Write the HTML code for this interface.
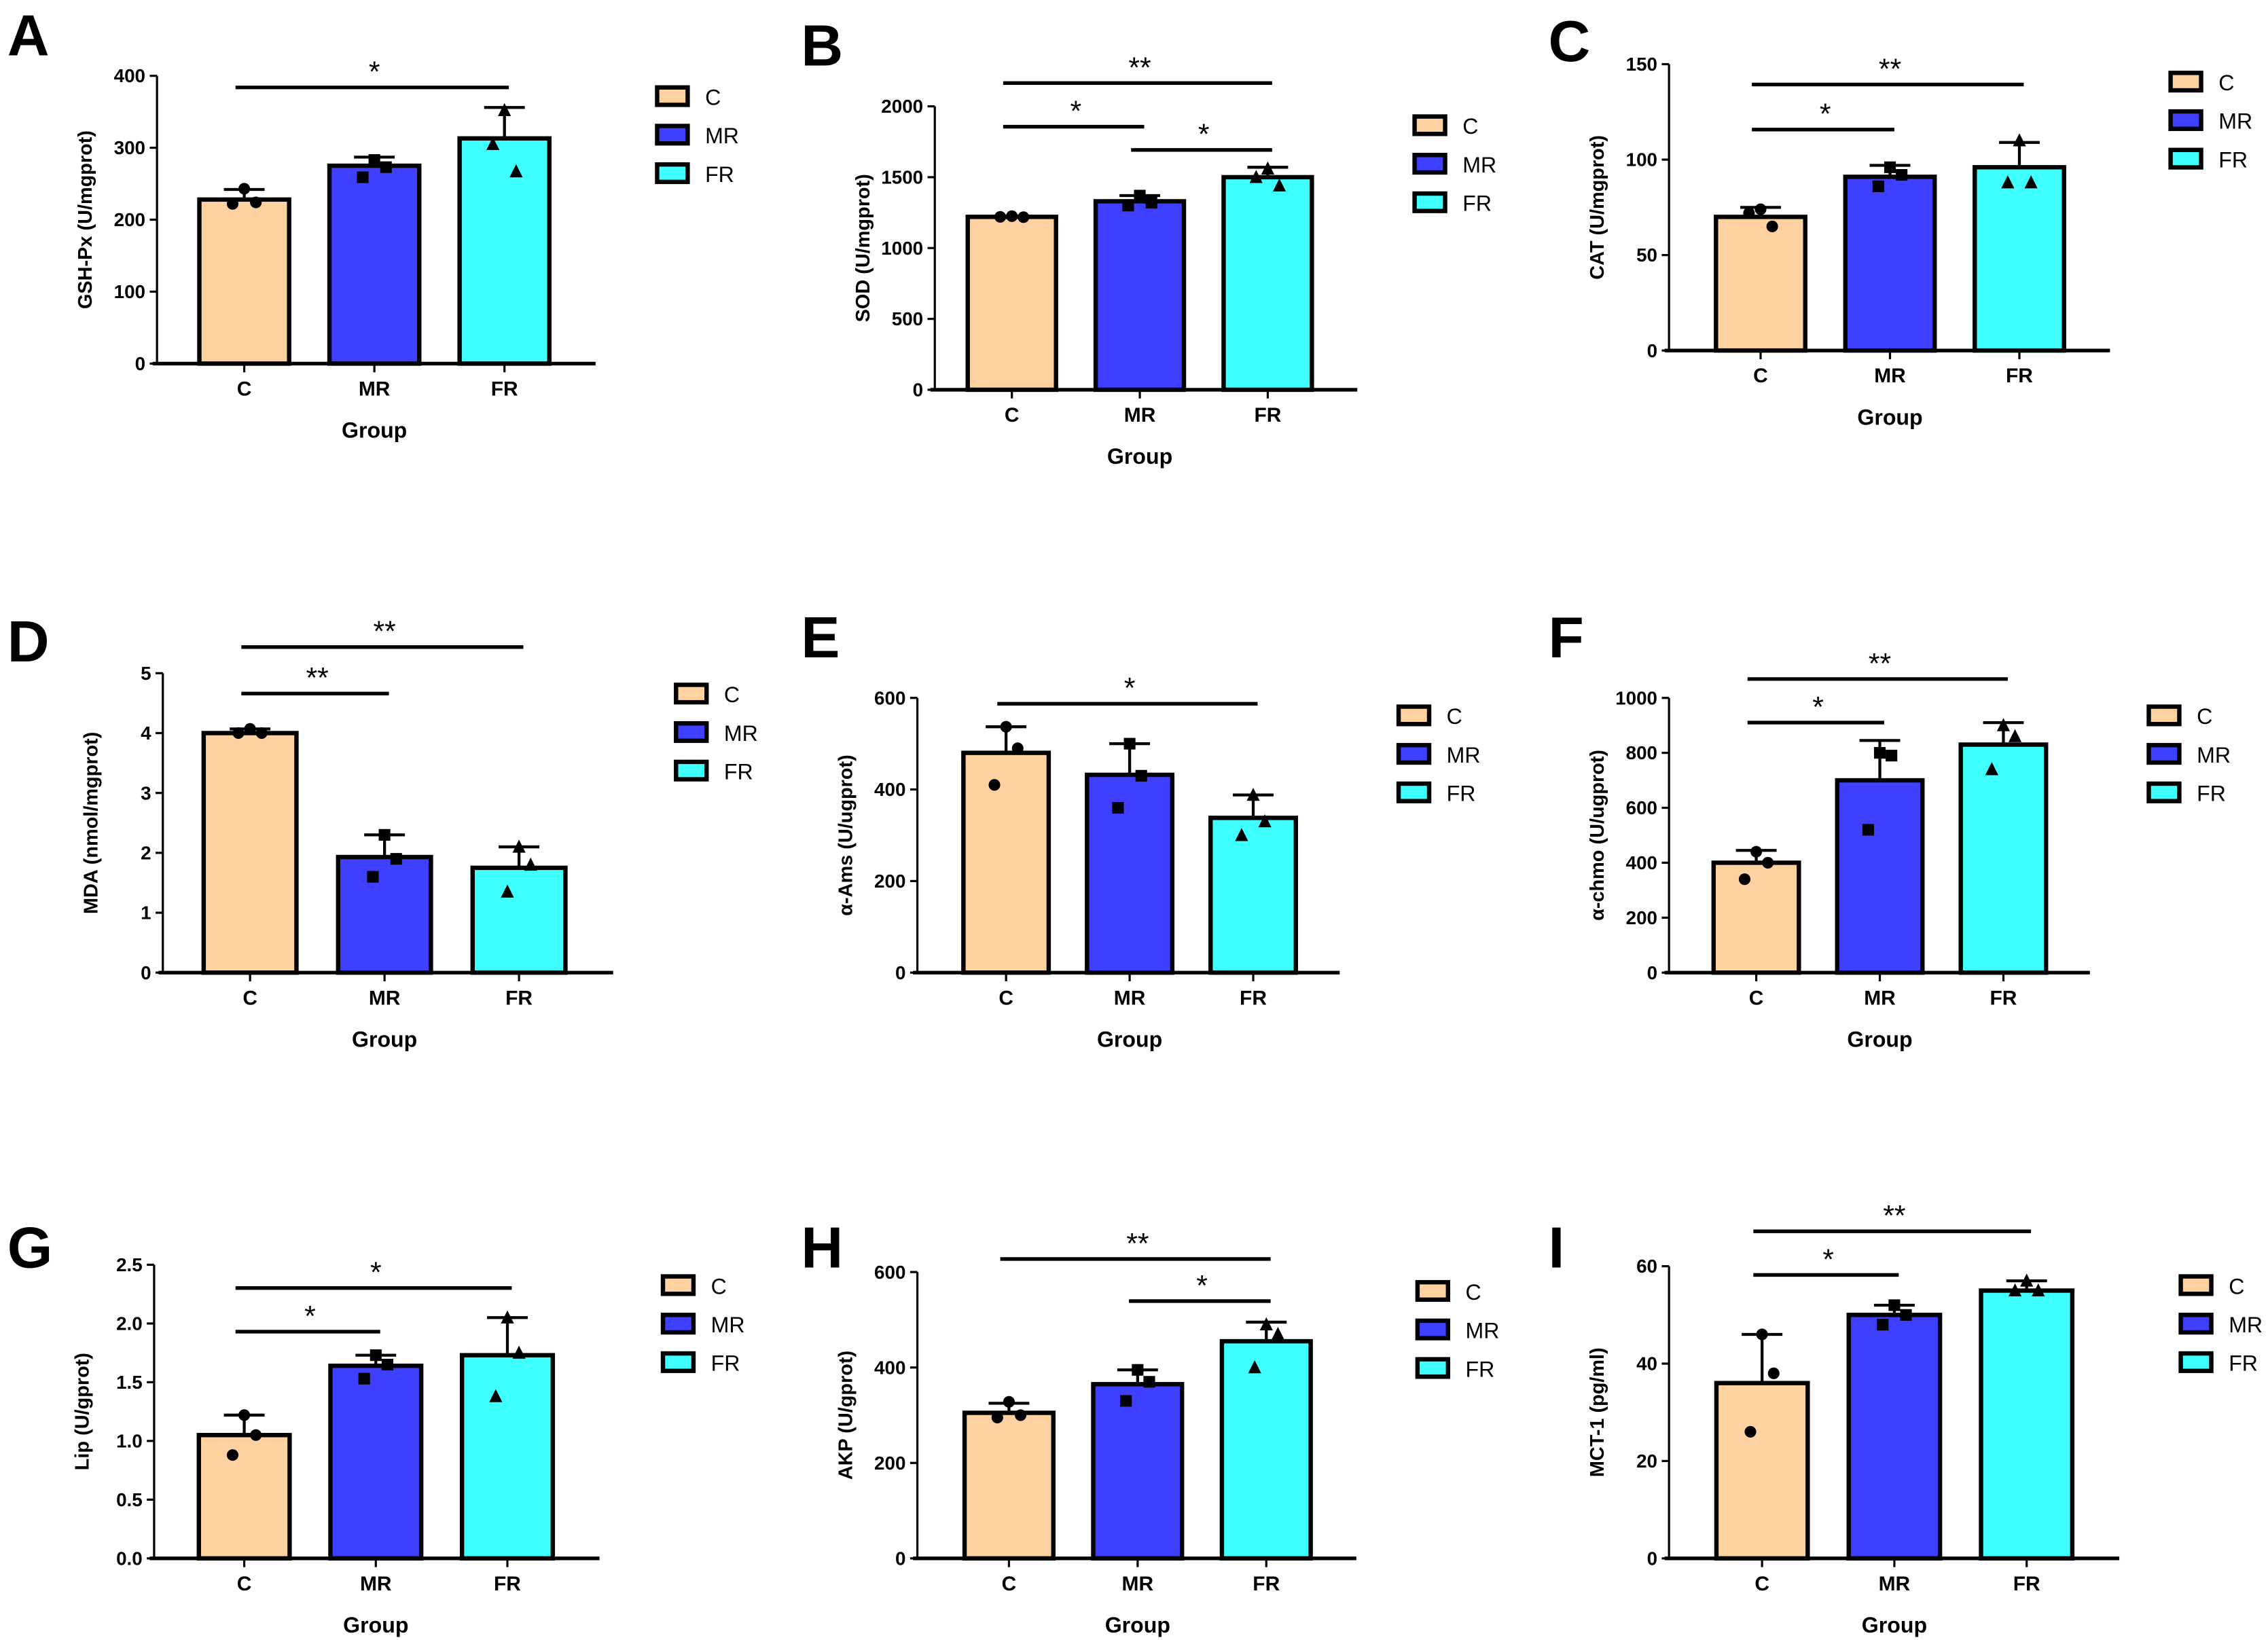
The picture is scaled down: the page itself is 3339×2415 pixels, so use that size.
<!DOCTYPE html>
<html><head><meta charset="utf-8"><style>
html,body{margin:0;padding:0;background:#fff}
svg{display:block}
text{font-family:"Liberation Sans",sans-serif;fill:#000}
</style></head><body>
<svg id="fig" width="3339" height="2415" viewBox="0 0 1560 1128" xmlns="http://www.w3.org/2000/svg"></svg>
<script>
const groups = ["C","MR","FR"];
const panelLetters = ["A","B","C","D","E","F","G","H","I"];
const yTitles = ["GSH-Px (U/mgprot)","SOD (U/mgprot)","CAT (U/mgprot)","MDA (nmol/mgprot)","α-Ams (U/ugprot)","α-chmo (U/ugprot)","Lip (U/gprot)","AKP (U/gprot)","MCT-1 (pg/ml)"];
const yMax = [400,2000,150,5,600,1000,2.5,600,60];
const yStep = [100,500,50,1,200,200,0.5,200,20];
const yDecimals = [0,0,0,0,0,0,1,0,0];
const means = [[228,275,313],[1220,1330,1500],[70,91,96],[4.0,1.93,1.75],[480,432,338],[400,700,830],[1.05,1.64,1.73],[305,365,455],[36,50,55]];
const errTops = [[242,287,356],[1225,1370,1570],[75,97,109],[4.07,2.3,2.1],[537,500,388],[445,845,910],[1.22,1.73,2.05],[325,395,495],[46,52,57]];
const points = [
 [[243,222,224],[283,259,273],[352,305,267]],
 [[1225,1220,1218],[1370,1300,1320],[1560,1500,1440]],
 [[74,72,65],[96,86,92],[110,88,88]],
 [[4.07,4.0,4.0],[2.3,1.6,1.9],[2.1,1.35,1.8]],
 [[537,410,490],[500,360,430],[388,300,330]],
 [[440,340,400],[800,520,790],[900,740,860]],
 [[1.22,0.88,1.05],[1.73,1.53,1.65],[2.05,1.38,1.75]],
 [[328,295,300],[395,330,370],[490,400,470]],
 [[46,26,38],[52,48,50],[57,55,55]]
];
// significance: [from group, to group, label]
const sigs = [
 [[0,2,"*"]],
 [[0,2,"**"],[0,1,"*"],[1,2,"*"]],
 [[0,2,"**"],[0,1,"*"]],
 [[0,2,"**"],[0,1,"**"]],
 [[0,2,"*"]],
 [[0,2,"**"],[0,1,"*"]],
 [[0,2,"*"],[0,1,"*"]],
 [[0,2,"**"],[1,2,"*"]],
 [[0,2,"**"],[0,1,"*"]]
];
const colors = ["#FDD1A0","#3F3FFF","#40FFFF"];
// layout (geometry only)
const L = [
 {ax:108,top:52,bot:250,c0:168,sp:89.5,lx:452,ly:66,lab:[5,38],sigY:[60]},
 {ax:643,top:73,bot:268,c0:696,sp:88,lx:973,ly:86,lab:[551,45],sigY:[57,87,103]},
 {ax:1148,top:44,bot:241,c0:1211,sp:89,lx:1493,ly:56,lab:[1065,42],sigY:[58,89]},
 {ax:112,top:463,bot:669,c0:172,sp:92.5,lx:465,ly:477,lab:[5,455],sigY:[445,477]},
 {ax:631,top:480,bot:669,c0:692,sp:85,lx:962,ly:492,lab:[551,452],sigY:[484]},
 {ax:1148,top:480,bot:669,c0:1208,sp:85,lx:1478,ly:492,lab:[1065,452],sigY:[467,497]},
 {ax:106,top:870,bot:1072,c0:168,sp:90.5,lx:456,ly:884,lab:[5,872],sigY:[886,916]},
 {ax:631,top:875,bot:1072,c0:694,sp:88.5,lx:975,ly:888,lab:[551,872],sigY:[866,895]},
 {ax:1148,top:871,bot:1072,c0:1212,sp:91,lx:1500,ly:884,lab:[1065,872],sigY:[847,877]}
];
const NS="http://www.w3.org/2000/svg";
const svg=document.getElementById('fig');
function mk(tag,attrs,parent,txt){const e=document.createElementNS(NS,tag);for(const k in attrs)e.setAttribute(k,attrs[k]);if(txt!==undefined)e.textContent=txt;parent.appendChild(e);return e;}
L.forEach((p,i)=>{
 const g=mk('g',{},svg);
 
 
 const y=v=>p.bot-(v/yMax[i])*(p.bot-p.top);
 const cx=j=>p.c0+j*p.sp;
 const bw=p.sp*0.69;
 const t=mk('text',{x:p.lab[0],y:p.lab[1],'font-size':40,'font-weight':'bold'},g,panelLetters[i]);
 
 
 // bars
 groups.forEach((gn,j)=>{
  const r=mk('rect',{x:cx(j)-bw/2,y:y(means[i][j]),width:bw,height:p.bot-y(means[i][j]),fill:colors[j],stroke:'#000','stroke-width':3},g);
  
  
  const eb=mk('path',{d:`M${cx(j)},${y(means[i][j])}V${y(errTops[i][j])}M${cx(j)-14},${y(errTops[i][j])}H${cx(j)+14}`,stroke:'#000','stroke-width':2,fill:'none'},g);
  
  
  points[i][j].forEach((v,k)=>{
   const px=cx(j)+(k===0?0:(k===1?-8:8)), py=y(v);
   let m;
   if(j===0) m=mk('circle',{cx:px,cy:py,r:4,fill:'#000'},g);
   else if(j===1) m=mk('rect',{x:px-4,y:py-4,width:8,height:8,fill:'#000'},g);
   else m=mk('path',{d:`M${px},${py-5}L${px+4.5},${py+4}L${px-4.5},${py+4}Z`,fill:'#000'},g);
   
   
  });
  const tl=mk('text',{x:cx(j),y:p.bot+22,'font-size':14,'font-weight':'bold','text-anchor':'middle'},g,gn);
  
  
  mk('line',{x1:cx(j),x2:cx(j),y1:p.bot,y2:p.bot+6,stroke:'#000','stroke-width':1.5},g);
  // legend
  const ly=p.ly+j*26.5;
  const lb=mk('rect',{x:p.lx,y:ly-6,width:21,height:12,fill:colors[j],stroke:'#000','stroke-width':3},g);
  
  
  const lt=mk('text',{x:p.lx+33,y:ly+6,'font-size':15},g,gn);
  
  
 });
 // axes
 const xa=mk('line',{x1:p.ax-3,x2:cx(2)+p.sp*0.7,y1:p.bot,y2:p.bot,stroke:'#000','stroke-width':2.5},g);
 
 
 const ya=mk('line',{x1:p.ax,x2:p.ax,y1:p.top,y2:p.bot,stroke:'#000','stroke-width':1.5},g);
 
 
 for(let v=0;v<=yMax[i]+1e-9;v+=yStep[i]){
  mk('line',{x1:p.ax-5,x2:p.ax,y1:y(v),y2:y(v),stroke:'#000','stroke-width':1.5},g);
  const yt=mk('text',{x:p.ax-8,y:y(v)+4.5,'font-size':13,'font-weight':'bold','text-anchor':'end'},g,v.toFixed(yDecimals[i]));
  
  
 }
 const yl=mk('text',{x:0,y:0,'font-size':13.5,'font-weight':'bold','text-anchor':'middle',transform:`translate(${p.ax-45},${(p.top+p.bot)/2}) rotate(-90)`},g,yTitles[i]);
 
 
 const xl=mk('text',{x:cx(1),y:p.bot+51,'font-size':15,'font-weight':'bold','text-anchor':'middle'},g,'Group');
 
 
 sigs[i].forEach((s,k)=>{
  const sy=p.sigY[k];
  const sl=mk('line',{x1:cx(s[0])-6,x2:cx(s[1])+3,y1:sy,y2:sy,stroke:'#000','stroke-width':2.5},g);
  
  
  const st=mk('text',{x:(cx(s[0])+cx(s[1]))/2,y:sy-4,'font-size':20,'text-anchor':'middle'},g,s[2]);
  
  
 });
});
</script>
</body></html>
